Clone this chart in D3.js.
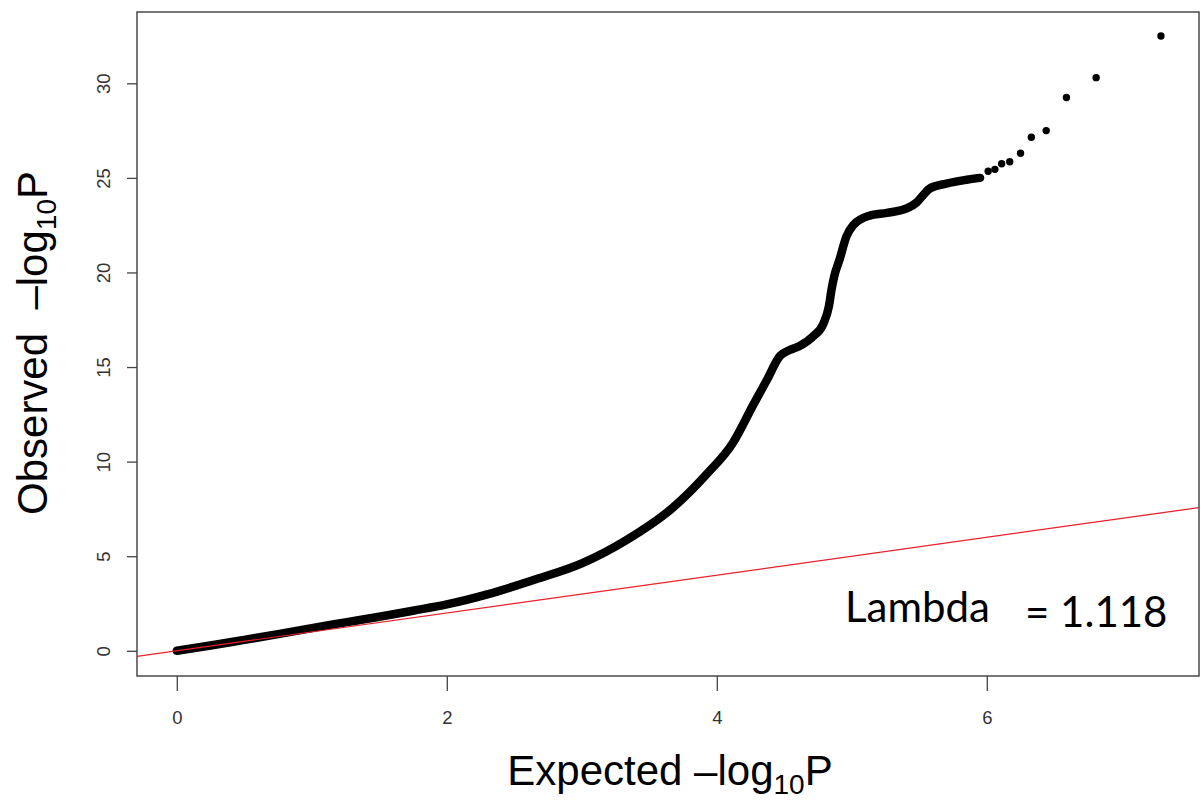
<!DOCTYPE html>
<html>
<head>
<meta charset="utf-8">
<script src="https://cdn.jsdelivr.net/npm/d3@7"></script>
<style>
  body { margin: 0; background: #fff; }
  svg { display: block; }
</style>
</head>
<body>
<script>
// size of the page
const width = 1203;
const height = 804;

// dense part of the qq curve (expected vs observed -log10 p)
const expected = [0, 0.25, 0.5, 0.75, 1.0, 1.25, 1.5, 1.75, 2.0, 2.3, 2.66, 3.0, 3.33, 3.68,
  3.92, 4.12, 4.27, 4.37, 4.47, 4.54, 4.61, 4.71, 4.79, 4.83, 4.85, 4.87, 4.91, 4.96,
  5.01, 5.13, 5.26, 5.41, 5.48, 5.53, 5.58, 5.70, 5.85, 5.95];
const observed = [0, 0.28, 0.58, 0.88, 1.2, 1.5, 1.8, 2.12, 2.45, 2.98, 3.78, 4.62, 5.85, 7.6,
  9.3, 11.0, 13.0, 14.3, 15.6, 15.9, 16.1, 16.6, 17.3, 18.2, 19.1, 19.8, 20.7, 21.9,
  22.5, 23.0, 23.15, 23.4, 23.7, 24.1, 24.45, 24.7, 24.9, 25.0];

// the separate points at the top end
const tailExpected = [6.01, 6.06, 6.11, 6.17, 6.25, 6.33, 6.44, 6.59, 6.81, 7.29];
const tailObserved = [25.35, 25.45, 25.75, 25.85, 26.3, 27.15, 27.5, 29.25, 30.3, 32.5];

// tick labels
const xTicks = [0, 2, 4, 6];
const yTicks = [0, 5, 10, 15, 20, 25, 30];

// lambda value
const lambda = "1.118";

// plot box
const box = { left: 137, top: 12, right: 1199, bottom: 676 };

let svg = d3.select("body").append("svg")
  .attr("width", width)
  .attr("height", height);

let x = d3.scaleLinear().domain([0, 6]).range([176.8, 986.8]);
let y = d3.scaleLinear().domain([0, 30]).range([650.8, 83.3]);

svg.append("clipPath").attr("id", "plotclip")
  .append("rect")
  .attr("x", box.left)
  .attr("y", box.top)
  .attr("width", box.right - box.left)
  .attr("height", box.bottom - box.top);

let plot = svg.append("g").attr("clip-path", "url(#plotclip)");

// dense curve of points
let line = d3.line()
  .x((d, i) => x(expected[i]))
  .y((d, i) => y(observed[i]))
  .curve(d3.curveMonotoneX);

plot.append("path")
  .attr("d", line(expected))
  .attr("fill", "none")
  .attr("stroke", "#000")
  .attr("stroke-width", 8.5)
  .attr("stroke-linecap", "round")
  .attr("stroke-linejoin", "round");

// top end points
plot.selectAll(".tail")
  .data(tailExpected)
  .enter().append("circle")
  .attr("class", "tail")
  .attr("cx", d => x(d))
  .attr("cy", (d, i) => y(tailObserved[i]))
  .attr("r", 3.7)
  .attr("fill", "#000");

// red y = x line
let x0 = x.invert(box.left);
let x1 = x.invert(box.right);
plot.append("line")
  .attr("x1", x(x0)).attr("y1", y(x0))
  .attr("x2", x(x1)).attr("y2", y(x1))
  .attr("stroke", "#e8202a")
  .attr("stroke-width", 1.2);

// frame
svg.append("rect")
  .attr("x", box.left)
  .attr("y", box.top)
  .attr("width", box.right - box.left)
  .attr("height", box.bottom - box.top)
  .attr("fill", "none")
  .attr("stroke", "#555")
  .attr("stroke-width", 1.6);

// x axis
let xAxis = svg.append("g")
  .attr("transform", "translate(0," + box.bottom + ")")
  .call(d3.axisBottom(x).tickValues(xTicks).tickSize(15).tickFormat(d3.format("d")));
xAxis.select(".domain").remove();
xAxis.selectAll("line").attr("stroke", "#444").attr("stroke-width", 1.3);
xAxis.selectAll("text")
  .attr("y", 35)
  .attr("fill", "#333")
  .style("font-family", "'Liberation Sans', Arial, sans-serif")
  .style("font-size", "18.5px");

// y axis
let yAxis = svg.append("g")
  .attr("transform", "translate(" + box.left + ",0)")
  .call(d3.axisLeft(y).tickValues(yTicks).tickSize(10).tickFormat(d3.format("d")));
yAxis.select(".domain").remove();
yAxis.selectAll("line").attr("stroke", "#444").attr("stroke-width", 1.3);
yAxis.selectAll("text")
  .attr("transform", "rotate(-90)")
  .attr("x", 0)
  .attr("y", -27)
  .attr("dy", 0)
  .attr("text-anchor", "middle")
  .attr("fill", "#333")
  .style("font-family", "'Liberation Sans', Arial, sans-serif")
  .style("font-size", "18.5px");

// axis titles
let xTitle = svg.append("text")
  .attr("x", (box.left + box.right) / 2 + 2)
  .attr("y", 785)
  .attr("text-anchor", "middle")
  .style("font-family", "'Liberation Sans', Arial, sans-serif")
  .style("font-size", "42px")
  .attr("fill", "#000");
xTitle.append("tspan").text("Expected \u2013log");
xTitle.append("tspan").attr("dy", 9).style("font-size", "28px").text("10");
xTitle.append("tspan").attr("dy", -9).text("P");

let yTitle = svg.append("text")
  .attr("transform", "translate(47," + ((box.top + box.bottom) / 2 - 1) + ") rotate(-90)")
  .attr("text-anchor", "middle")
  .style("font-family", "'Liberation Sans', Arial, sans-serif")
  .style("font-size", "42px")
  .style("white-space", "pre")
  .attr("fill", "#000");
yTitle.append("tspan").text("Observed  \u2013log");
yTitle.append("tspan").attr("dy", 9).style("font-size", "28px").text("10");
yTitle.append("tspan").attr("dy", -9).text("P");

// lambda note
svg.append("text")
  .attr("x", 845)
  .attr("y", 622)
  .style("font-family", "Lato, 'Open Sans', sans-serif")
  .style("font-size", "42px")
  .attr("fill", "#000")
  .text("Lambda");

svg.append("text")
  .attr("x", 1025)
  .attr("y", 627)
  .style("font-family", "Lato, 'Open Sans', sans-serif")
  .style("font-size", "42px")
  .attr("fill", "#000")
  .text("= " + lambda);
</script>
</body>
</html>
